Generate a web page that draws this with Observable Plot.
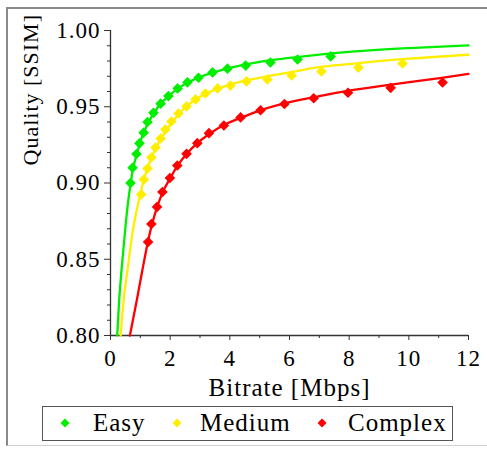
<!DOCTYPE html>
<html>
<head>
<meta charset="utf-8">
<script src="https://cdn.jsdelivr.net/npm/d3@7"></script>
<script src="https://cdn.jsdelivr.net/npm/@observablehq/plot@0.6"></script>
<style>
  html, body { margin: 0; padding: 0; background: #fff; }
  body { position: relative; width: 487px; height: 449px; overflow: hidden;
         font-family: "Liberation Serif", "Times New Roman", Tinos, "DejaVu Serif", serif; }
  #chart { position: absolute; left: 0; top: 0; }
  #chart svg, #chart svg text { font-family: "Liberation Serif", "Times New Roman", Tinos, "DejaVu Serif", serif !important; }
  #chart svg text { letter-spacing: 1px; }
  #chart svg text.ylab { letter-spacing: 0; }
  #frame { position: absolute; left: 6px; top: 7px; width: 500px; height: 439px;
           border-left: 2px solid #8a8a8a; border-top: 2px solid #8a8a8a;
           border-bottom: 1px solid #d0d0d0; pointer-events: none; box-sizing: border-box; }
  #legend { position: absolute; left: 42px; top: 406px; width: 411px; height: 35px;
            border: 1.5px solid #555; box-sizing: border-box; background: #fff;
            font-family: "Liberation Serif", "Times New Roman", Tinos, "DejaVu Serif", serif;
            font-size: 25px; color: #000; }
  #legend .txt { position: absolute; top: 0; line-height: 32px; letter-spacing: 1px; white-space: nowrap; }
  #legend svg { position: absolute; }
</style>
</head>
<body>
<div id="chart"></div>
<div id="legend"></div>
<div id="frame"></div>
<script>
// ---- data ----
const seriesNames = ["Easy", "Medium", "Complex"];
const seriesColors = ["#00ee00", "#ffee00", "#ff0000"];

const easyRate = [0.67, 0.74, 0.87, 0.97, 1.11, 1.24, 1.44, 1.68, 1.94, 2.25, 2.58, 2.95, 3.42, 3.92, 4.53, 5.36, 6.27, 7.38];
const easySSIM = [0.900, 0.910, 0.919, 0.926, 0.933, 0.940, 0.946, 0.952, 0.957, 0.962, 0.966, 0.969, 0.9725, 0.975, 0.977, 0.979, 0.981, 0.983];

const mediumRate = [1.03, 1.12, 1.24, 1.37, 1.51, 1.68, 1.84, 2.04, 2.28, 2.55, 2.85, 3.18, 3.59, 4.02, 4.56, 5.26, 6.07, 7.07, 8.31, 9.79];
const mediumSSIM = [0.8925, 0.9023, 0.9095, 0.9167, 0.9233, 0.9292, 0.9351, 0.9403, 0.9456, 0.9502, 0.9548, 0.9587, 0.9620, 0.9639, 0.9666, 0.9679, 0.9705, 0.9731, 0.9757, 0.9784];

const complexRate = [1.26, 1.37, 1.56, 1.74, 1.99, 2.24, 2.55, 2.91, 3.30, 3.80, 4.36, 5.03, 5.83, 6.81, 7.96, 9.39, 11.13];
const complexSSIM = [0.8613, 0.8731, 0.8843, 0.8941, 0.9033, 0.9115, 0.9191, 0.9261, 0.9327, 0.9377, 0.9430, 0.9477, 0.9518, 0.9556, 0.9592, 0.9624, 0.9659];

// fitted curves
const easyFitRate = [0.225, 0.29, 0.37, 0.49, 0.58, 0.67, 0.75, 0.87, 1.0, 1.25, 1.6, 2.0, 2.5, 3.0, 4.0, 5.0, 6.0, 7.0, 8.0, 10.0, 12.0];
const easyFitSSIM = [0.800, 0.823, 0.843, 0.869, 0.886, 0.899, 0.909, 0.918, 0.927, 0.939, 0.950, 0.958, 0.965, 0.9695, 0.9755, 0.9795, 0.982, 0.9842, 0.986, 0.9885, 0.9903];

const mediumFitRate = [0.34, 0.44, 0.57, 0.75, 0.95, 1.05, 1.3, 1.6, 2.0, 2.5, 3.0, 4.0, 5.0, 6.0, 7.0, 8.0, 10.0, 12.0];
const mediumFitSSIM = [0.800, 0.823, 0.843, 0.869, 0.8885, 0.897, 0.913, 0.926, 0.938, 0.9495, 0.9565, 0.9645, 0.969, 0.9725, 0.976, 0.978, 0.9815, 0.9841];

const complexFitRate = [0.65, 0.88, 1.07, 1.26, 1.4, 1.56, 1.75, 2.0, 2.25, 2.55, 2.9, 3.3, 3.8, 4.4, 5.0, 6.0, 7.0, 8.0, 9.4, 11.1, 12.0];
const complexFitSSIM = [0.800, 0.823, 0.843, 0.862, 0.8735, 0.884, 0.894, 0.903, 0.9115, 0.919, 0.926, 0.932, 0.938, 0.943, 0.9475, 0.953, 0.957, 0.9605, 0.9645, 0.969, 0.9716];

// ticks
const xTicks = [0, 2, 4, 6, 8, 10, 12];
const xMinorTicks = [1, 3, 5, 7, 9, 11];
const yTicks = [0.80, 0.85, 0.90, 0.95, 1.00];
const yMinorTicks = [0.81, 0.82, 0.83, 0.84, 0.86, 0.87, 0.88, 0.89, 0.91, 0.92, 0.93, 0.94, 0.96, 0.97, 0.98, 0.99];
const xLabel = "Bitrate [Mbps]";
const yLabel = "Quality [SSIM]";

// ---- tables ----
const points = [
  ...easyRate.map((r, i) => ({series: "Easy", rate: r, ssim: easySSIM[i]})),
  ...mediumRate.map((r, i) => ({series: "Medium", rate: r, ssim: mediumSSIM[i]})),
  ...complexRate.map((r, i) => ({series: "Complex", rate: r, ssim: complexSSIM[i]}))
];
const fits = [
  ...easyFitRate.map((r, i) => ({series: "Easy", rate: r, ssim: easyFitSSIM[i]})),
  ...mediumFitRate.map((r, i) => ({series: "Medium", rate: r, ssim: mediumFitSSIM[i]})),
  ...complexFitRate.map((r, i) => ({series: "Complex", rate: r, ssim: complexFitSSIM[i]}))
];

const font = "'Liberation Serif', 'Times New Roman', Tinos, 'DejaVu Serif', serif";
const axisColor = "#333";

const chart = Plot.plot({
  width: 487,
  height: 404,
  marginLeft: 110,
  marginRight: 19,
  marginTop: 30,
  marginBottom: 69,
  style: {fontFamily: font, background: "transparent", color: "#000", overflow: "visible"},
  x: {domain: [0, 12]},
  y: {domain: [0.80, 1.00]},
  color: {domain: seriesNames, range: seriesColors},
  marks: [
    Plot.axisY({ticks: yTicks, tickFormat: d3.format(".2f"), tickSize: 6, tickPadding: 4, fontSize: 23, stroke: axisColor, fill: "#000", label: null}),
    Plot.axisY({ticks: yMinorTicks, tickFormat: () => "", tickSize: 3, stroke: axisColor, label: null}),
    Plot.axisX({ticks: xTicks, tickFormat: d3.format("d"), tickSize: 5, tickPadding: 9, fontSize: 23, stroke: axisColor, fill: "#000", label: null}),
    Plot.axisX({ticks: xMinorTicks, tickFormat: () => "", tickSize: 3, stroke: axisColor, label: null}),
    Plot.ruleX([0], {stroke: axisColor, strokeWidth: 1.3}),
    Plot.ruleY([0.80], {stroke: axisColor, strokeWidth: 1.3}),
    Plot.line(fits, {x: "rate", y: "ssim", z: "series", stroke: "series", strokeWidth: 2.3, curve: "monotone-x"}),
    Plot.dot(points, {x: "rate", y: "ssim", fill: "series", symbol: "diamond2", r: 4.8, stroke: "none"}),
    Plot.text([xLabel], {frameAnchor: "bottom", dy: 52, lineAnchor: "middle", fontSize: 25, fill: "#000"}),
    Plot.text([yLabel], {frameAnchor: "top-left", dx: -80, dy: 135, rotate: -90, lineAnchor: "middle", fontSize: 22, fill: "#000", className: "ylab"})
  ]
});
document.getElementById("chart").appendChild(chart);

// ---- legend (HTML, below the plot area) ----
const legend = document.getElementById("legend");
const legendMarkerX = [22, 134, 279];
const legendTextX = [50, 157, 305];
seriesNames.forEach((name, i) => {
  const svg = d3.create("svg").attr("width", 10).attr("height", 10)
    .style("left", (legendMarkerX[i] - 5) + "px").style("top", "11px");
  svg.append("path").attr("d", "M5,0.5L9.5,5L5,9.5L0.5,5Z").attr("fill", seriesColors[i]);
  legend.appendChild(svg.node());
  const t = document.createElement("span");
  t.className = "txt";
  t.style.left = legendTextX[i] + "px";
  t.textContent = name;
  legend.appendChild(t);
});
</script>
</body>
</html>
